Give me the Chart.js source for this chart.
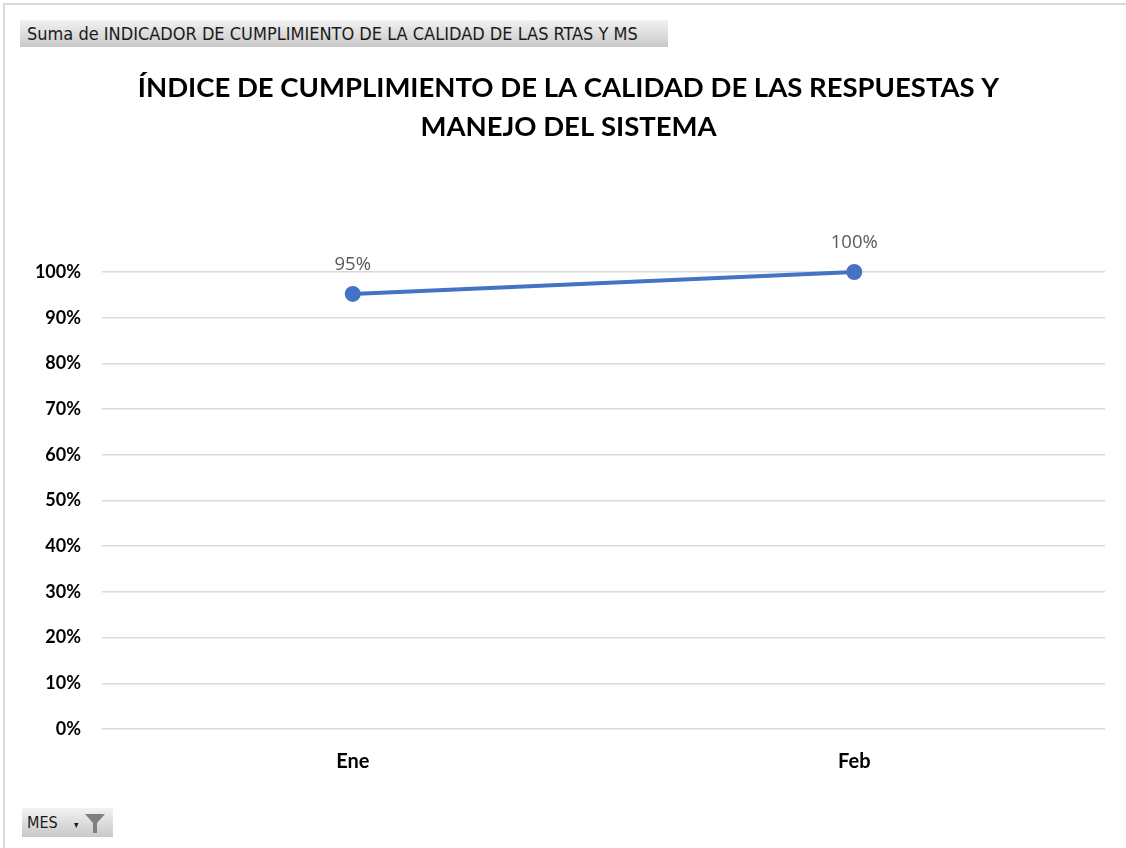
<!DOCTYPE html>
<html><head><meta charset="utf-8">
<script src="https://cdn.jsdelivr.net/npm/chart.js@4"></script>
<style>
html,body{margin:0;padding:0;background:#fff;width:1126px;height:848px;overflow:hidden;}
#wrap{position:absolute;left:0;top:0;width:1126px;height:848px;overflow:hidden;}
#lineL{position:absolute;left:3px;top:3px;width:2px;height:845px;background:#d9d9d9;}
#lineT{position:absolute;left:3px;top:3px;width:1123px;height:2px;background:#d9d9d9;}
.btn{position:absolute;background:linear-gradient(#f2f2f2,#c8c8c8);color:#1a1a1a;font-family:"DejaVu Sans Condensed","DejaVu Sans",sans-serif;white-space:nowrap;box-sizing:border-box;}
#b1{left:20px;top:20px;width:648px;height:27px;font-size:18px;line-height:27px;padding-left:7px;}
#b2{left:22px;top:808px;width:91px;height:29px;font-size:16px;line-height:29px;padding-left:5px;}
canvas{position:absolute;left:0;top:0;}
</style></head>
<body><div id="wrap">
<canvas id="c" width="1126" height="848"></canvas>
<div id="lineL"></div><div id="lineT"></div>
<div class="btn" id="b1">Suma de INDICADOR DE CUMPLIMIENTO DE LA CALIDAD DE LAS RTAS Y MS</div>
<div class="btn" id="b2">MES<span style="font-size:10px;position:absolute;left:52px;top:2px;">&#9662;</span><svg width="22" height="22" viewBox="0 0 22 22" style="position:absolute;left:62px;top:4px;"><path d="M1 2 H21 L13 11 V21 H9 V11 Z" fill="#7f7f7f"/></svg></div>
</div>
<script>
const categories = ["Ene", "Feb"];
const values = [0.952, 1.0];
const valueLabels = ["95%", "100%"];
const yTicks = [0, 0.1, 0.2, 0.3, 0.4, 0.5, 0.6, 0.7, 0.8, 0.9, 1.0];
const titleLines = ["ÍNDICE DE CUMPLIMIENTO DE LA CALIDAD DE LAS RESPUESTAS Y", "MANEJO DEL SISTEMA"];

const labelPlugin = {
  id: 'valLabels',
  afterDatasetsDraw(chart) {
    const ctx = chart.ctx;
    const meta = chart.getDatasetMeta(0);
    ctx.save();
    ctx.font = '18.5px "Open Sans", sans-serif';
    ctx.fillStyle = '#595959';
    ctx.textAlign = 'center';
    ctx.textBaseline = 'middle';
    meta.data.forEach((pt, i) => {
      ctx.fillText(valueLabels[i], pt.x, pt.y - 29);
    });
    ctx.restore();
  }
};

new Chart(document.getElementById('c'), {
  type: 'line',
  data: {
    labels: categories,
    datasets: [{
      data: values,
      borderColor: '#4472C4',
      backgroundColor: '#4472C4',
      borderWidth: 4,
      pointRadius: 6,
      pointHoverRadius: 6,
      pointBackgroundColor: '#4472C4',
      pointBorderColor: '#4472C4',
      tension: 0,
      clip: false
    }]
  },
  options: {
    responsive: false,
    animation: false,
    events: [],
    layout: { padding: { top: 3, right: 21, bottom: 60, left: 32 } },
    plugins: {
      legend: { display: false },
      tooltip: { enabled: false },
      title: {
        display: true,
        text: titleLines,
        color: '#000',
        font: { family: 'Lato, "Open Sans", sans-serif', size: 27.5, weight: 'bold', lineHeight: 1.4 },
        padding: { top: 66, bottom: 126 }
      }
    },
    scales: {
      x: {
        offset: true,
        grid: { display: false, drawTicks: false },
        border: { display: false },
        ticks: { color: '#000', font: { family: 'Lato, "Open Sans", sans-serif', size: 20, weight: 'bold' }, padding: 21 },
        afterFit(s) { s.height = 59; }
      },
      y: {
        min: 0, max: 1,
        afterBuildTicks(s) { s.ticks = yTicks.map(v => ({ value: v })); },
        grid: { color: '#d9d9d9', lineWidth: 1.5, drawTicks: false },
        border: { display: false },
        ticks: {
          color: '#000',
          font: { family: 'Lato, "Open Sans", sans-serif', size: 18, weight: 'bold' },
          padding: 21,
          callback: v => Math.round(v * 100) + '%'
        },
        afterFit(s) { s.width = 70; }
      }
    }
  },
  plugins: [labelPlugin]
});
</script>
</body></html>
